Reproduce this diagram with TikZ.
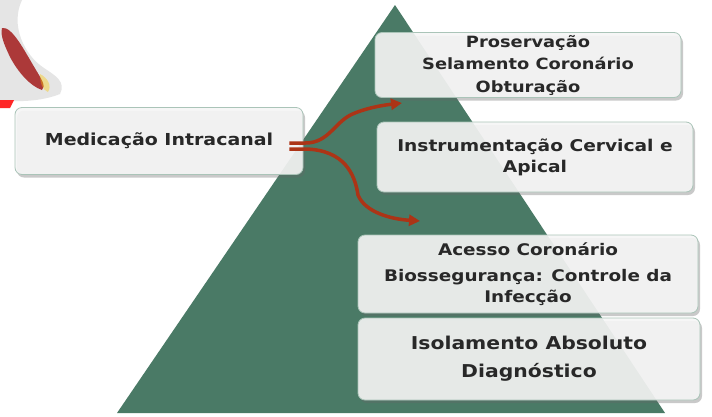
\documentclass[tikz,border=0pt]{standalone}
\usepackage{fontspec}
\setmainfont{DejaVu Sans}[FakeStretch=1.15]
\usepackage{tikz}
\usetikzlibrary{arrows.meta,positioning,calc,shadows}

\definecolor{pyrgreen}{RGB}{74,122,102}
\definecolor{flowred}{RGB}{172,52,22}
\definecolor{boxline}{RGB}{170,196,184}
\definecolor{boxtext}{RGB}{40,40,40}

\tikzset{
  stage/.style={draw=boxline, line width=0.8pt, rounded corners=7pt,
    fill=white!93!gray, fill opacity=0.9, text opacity=1,
    text=boxtext, font=\bfseries\fontsize{16}{22}\selectfont, align=center,
    inner sep=0pt,
    drop shadow={shadow xshift=2pt, shadow yshift=-3pt, opacity=0.35, fill=black!60}},
  flow/.style={draw=flowred, line width=3.5pt,
    -{Triangle[length=11pt,width=11pt]}}
}

\begin{document}
\begin{tikzpicture}[x=1pt,y=-1pt]
  \useasboundingbox (0,0) rectangle (712,416);
  % background
  \fill[white] (0,0) rectangle (712,416);

  % tooth sketch cut off at the corner
  \fill[black!10] (0,0) -- (22,0) .. controls (10,25) and (24,55) .. (44,68)
    .. controls (56,76) and (66,82) .. (60,94) .. controls (40,102) and (15,102) .. (0,100) -- cycle;
  \fill[red!60!black, opacity=0.75] (2,28) .. controls (12,26) and (24,50) .. (36,70)
    .. controls (42,80) and (46,86) .. (42,90) .. controls (30,86) and (18,72) .. (10,57)
    .. controls (5,46) and (0,36) .. (2,28) -- cycle;
  \fill[yellow!60!orange, opacity=0.4] (40,74) .. controls (48,78) and (52,86) .. (48,92)
    .. controls (42,90) and (40,82) .. (40,74) -- cycle;
  \fill[red!85] (0,100) -- (14,100) -- (10,108) -- (0,108) -- cycle;

  % pyramid
  \fill[pyrgreen] (395,5) -- (665,413) -- (117,413) -- cycle;

  % stages
  \node[stage, minimum width=288pt, minimum height=67pt,
    font=\bfseries\fontsize{16.5}{22}\selectfont] (med) at (159,141)
    {Medicação Intracanal};
  \node[stage, minimum width=306pt, minimum height=65pt,
    font=\bfseries\fontsize{15.5}{22.5}\selectfont] (obt) at (528,65)
    {Proservação\\Selamento Coronário\\Obturação};
  \node[stage, minimum width=316pt, minimum height=70pt,
    font=\bfseries\fontsize{16.2}{21}\selectfont] (instr) at (535,157)
    {Instrumentação Cervical e\\Apical};
  \node[stage, minimum width=340pt, minimum height=78pt,
    font=\bfseries\fontsize{16}{21}\selectfont] (acesso) at (528,274)
    {Acesso Coronário\\[5pt]Biossegurança: Controle da\\Infecção};
  \node[stage, minimum width=342pt, minimum height=82pt,
    font=\bfseries\fontsize{17.7}{28}\selectfont] (isol) at (529,359)
    {Isolamento Absoluto\\Diagnóstico};

  % branches out of the medication box
  \coordinate (upend) at (402,103);
  \coordinate (downend) at (420,221);
  \draw[flow] ($(med.east)+(-14,2)$) -- ++(16,0)
    .. controls (330,143) and (335,120) .. (355,113)
    .. controls (370,107) and (385,105) .. (upend);
  \draw[flow] ($(med.east)+(-14,8)$) -- ++(16,0)
    .. controls (345,150) and (355,175) .. (358,195)
    .. controls (365,212) and (390,219) .. (downend);
\end{tikzpicture}
\end{document}
